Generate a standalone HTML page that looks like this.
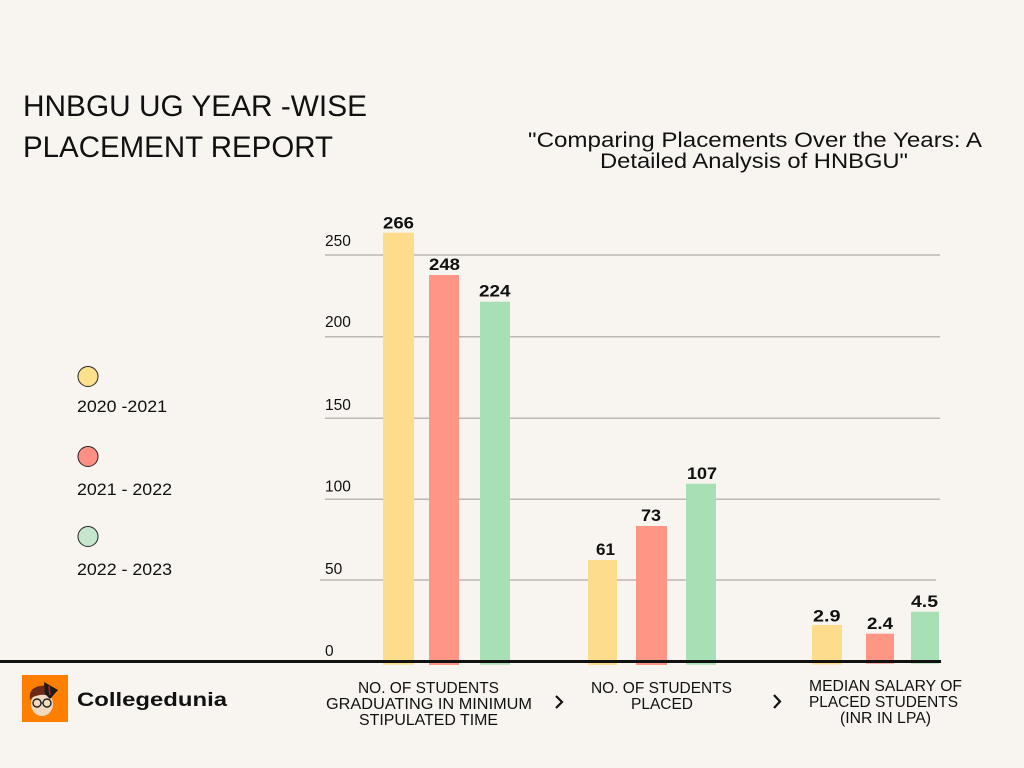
<!DOCTYPE html>
<html>
<head>
<meta charset="utf-8">
<style>
  html,body{margin:0;padding:0;background:#f8f5f1;}
  svg{display:block;}
  text{font-family:"Liberation Sans",Arial,sans-serif;fill:#111;}
</style>
</head>
<body>
<svg width="1024" height="768" viewBox="0 0 1024 768" xmlns="http://www.w3.org/2000/svg">
  <rect x="0" y="0" width="1024" height="768" fill="#f8f5f1"/>

  <!-- Title -->
  <text x="23" y="116" font-size="30" textLength="344" lengthAdjust="spacingAndGlyphs">HNBGU UG YEAR -WISE</text>
  <text x="23" y="157" font-size="30" textLength="310" lengthAdjust="spacingAndGlyphs">PLACEMENT REPORT</text>

  <!-- Subtitle -->
  <text x="528" y="147" font-size="21" textLength="454" lengthAdjust="spacingAndGlyphs">"Comparing Placements Over the Years: A</text>
  <text x="600" y="168" font-size="21" textLength="308" lengthAdjust="spacingAndGlyphs">Detailed Analysis of HNBGU"</text>

  <!-- Gridlines -->
  <g stroke="#bcb7b2" stroke-width="1.5">
    <line x1="325" y1="255" x2="940" y2="255"/>
    <line x1="325" y1="336.7" x2="940" y2="336.7"/>
    <line x1="325" y1="418.3" x2="940" y2="418.3"/>
    <line x1="325" y1="499.3" x2="940" y2="499.3"/>
    <line x1="320" y1="580" x2="936" y2="580"/>
  </g>

  <!-- Y-axis labels -->
  <g font-size="15.5">
    <text x="325" y="246">250</text>
    <text x="325" y="327">200</text>
    <text x="325" y="410">150</text>
    <text x="325" y="491.5">100</text>
    <text x="325" y="574">50</text>
    <text x="325" y="656">0</text>
  </g>

  <!-- Bars group 1 -->
  <rect x="383" y="232.7" width="31" height="432" fill="#fddc8b"/>
  <rect x="429" y="275" width="30" height="390" fill="#ff9585"/>
  <rect x="480" y="301.7" width="30" height="363" fill="#a7e0b4"/>
  <!-- Bars group 2 -->
  <rect x="588" y="560" width="29" height="105" fill="#fddc8b"/>
  <rect x="636" y="526" width="31" height="139" fill="#ff9585"/>
  <rect x="686" y="483.7" width="30" height="181" fill="#a7e0b4"/>
  <!-- Bars group 3 -->
  <rect x="812" y="625" width="30" height="39.5" fill="#fddc8b"/>
  <rect x="866" y="633.7" width="28" height="30" fill="#ff9585"/>
  <rect x="911" y="611.7" width="28" height="52" fill="#a7e0b4"/>

  <!-- Baseline -->
  <rect x="0" y="660" width="941" height="3" fill="#111"/>

  <!-- Value labels -->
  <g font-size="16.5" font-weight="bold">
    <text x="383" y="228.3" textLength="31" lengthAdjust="spacingAndGlyphs">266</text>
    <text x="429" y="270" textLength="31" lengthAdjust="spacingAndGlyphs">248</text>
    <text x="479" y="296.7" textLength="31.5" lengthAdjust="spacingAndGlyphs">224</text>
    <text x="596" y="555" textLength="19" lengthAdjust="spacingAndGlyphs">61</text>
    <text x="641" y="521" textLength="20" lengthAdjust="spacingAndGlyphs">73</text>
    <text x="687" y="479" textLength="30" lengthAdjust="spacingAndGlyphs">107</text>
    <text x="813" y="621.7" textLength="27.5" lengthAdjust="spacingAndGlyphs">2.9</text>
    <text x="867" y="629" textLength="26" lengthAdjust="spacingAndGlyphs">2.4</text>
    <text x="911" y="607" textLength="27" lengthAdjust="spacingAndGlyphs">4.5</text>
  </g>

  <!-- Legend -->
  <circle cx="88" cy="376.5" r="10" fill="#fde08b" stroke="#222" stroke-width="1"/>
  <text x="77" y="412" font-size="16.5" textLength="90" lengthAdjust="spacingAndGlyphs">2020 -2021</text>
  <circle cx="88" cy="456.5" r="10" fill="#ff8f82" stroke="#222" stroke-width="1"/>
  <text x="77" y="495" font-size="16.5" textLength="95" lengthAdjust="spacingAndGlyphs">2021 - 2022</text>
  <circle cx="88" cy="536.5" r="10" fill="#c4e7cd" stroke="#222" stroke-width="1"/>
  <text x="77" y="575" font-size="16.5" textLength="95" lengthAdjust="spacingAndGlyphs">2022 - 2023</text>

  <!-- Category labels -->
  <g font-size="15.5" fill="#222">
    <text x="358" y="693" textLength="141" lengthAdjust="spacingAndGlyphs">NO. OF STUDENTS</text>
    <text x="326" y="709" textLength="206" lengthAdjust="spacingAndGlyphs">GRADUATING IN MINIMUM</text>
    <text x="359" y="725" textLength="139" lengthAdjust="spacingAndGlyphs">STIPULATED TIME</text>

    <text x="591" y="693" textLength="141" lengthAdjust="spacingAndGlyphs">NO. OF STUDENTS</text>
    <text x="631" y="709" textLength="62" lengthAdjust="spacingAndGlyphs">PLACED</text>

    <text x="809" y="691" textLength="153" lengthAdjust="spacingAndGlyphs">MEDIAN SALARY OF</text>
    <text x="809" y="707" textLength="149" lengthAdjust="spacingAndGlyphs">PLACED STUDENTS</text>
    <text x="840" y="723" textLength="91" lengthAdjust="spacingAndGlyphs">(INR IN LPA)</text>
  </g>

  <!-- Chevrons -->
  <polyline points="556,696 562,702 556,708" fill="none" stroke="#111" stroke-width="2.2"/>
  <polyline points="774,695 780,701.5 774,708" fill="none" stroke="#111" stroke-width="2.2"/>

  <!-- Logo -->
  <rect x="22" y="675" width="46" height="47" fill="#fe7f00"/>
  <ellipse cx="42" cy="704" rx="11" ry="12" fill="#f2d9c2"/>
  <path d="M30,700 Q28,688 40,686 Q50,684 53,693 L52,698 Q45,692 33,697 Z" fill="#6b2a1a"/>
  <polygon points="44,682 58,690 50,699 45,694" fill="#1a1a1a"/>
  <line x1="49" y1="686" x2="50" y2="695" stroke="#d01818" stroke-width="1.5"/>
  <circle cx="37" cy="703" r="4" fill="none" stroke="#222" stroke-width="1.4"/>
  <circle cx="47" cy="703" r="4" fill="none" stroke="#222" stroke-width="1.4"/>
  <line x1="41" y1="703" x2="43" y2="703" stroke="#222" stroke-width="1.2"/>

  <text x="77" y="706" font-size="19.5" font-weight="bold" textLength="150" lengthAdjust="spacingAndGlyphs">Collegedunia</text>
</svg>
</body>
</html>
